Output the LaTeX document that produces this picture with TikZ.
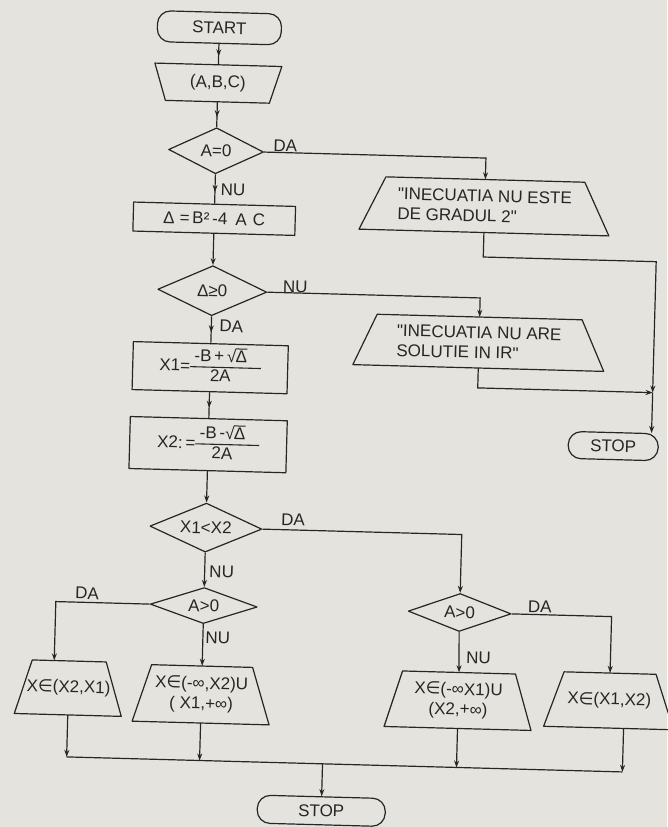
\documentclass[tikz,border=0pt]{standalone}
\usepackage{fontspec}
\setmainfont{Liberation Sans}
\newfontfamily\symfont{DejaVu Sans}
\newfontfamily\qfont{Liberation Sans}
\usetikzlibrary{arrows.meta,shapes.geometric,decorations.markings,calc}
\definecolor{paper}{RGB}{229,227,221}
\definecolor{ink}{RGB}{38,38,38}
\setlength{\arrayrulewidth}{1.1pt}
\newcommand{\elem}{{\symfont ∈}}
\newcommand{\dq}{{\qfont\symbol{34}}}
\newcommand{\myrt}[1]{√\kern-0.6pt\vbox{\hrule height 1pt\kern1.2pt\hbox{#1}}}
\newcommand{\myfr}[2]{\begin{tabular}{@{\hspace{4pt}}c@{\hspace{14pt}}}#1\\[-1pt]\hline #2\end{tabular}}
\newcommand{\mytrap}[8][center]{%
  \node[tbox,align=#1,minimum width={max(#5,#6)},minimum height=#7] (#2) at (#3,#4) {#8};
  \draw[shp] ({#3-#5/2},{#4-#7/2}) -- ({#3+#5/2},{#4-#7/2}) -- ({#3+#6/2},{#4+#7/2}) -- ({#3-#6/2},{#4+#7/2}) -- cycle;}
\begin{document}
\begin{tikzpicture}[x=1pt,y=-1pt,
  ln/.style={draw=ink,line width=1.2pt},
  shp/.style={draw=ink,line width=1.2pt,line join=round},
  txt/.style={font=\fontsize{17}{20}\selectfont,text=ink},
  term/.style={shp,txt,rectangle,rounded corners=13pt,inner sep=0pt},
  proc/.style={shp,txt,rectangle,inner sep=0pt},
  dec/.style={shp,txt,diamond,aspect=2.5,inner sep=0pt},
  tbox/.style={txt,inner sep=0pt},
  lbl/.style={txt,inner sep=0pt},
  flow/.style={ln,-{Stealth[length=7pt,width=5pt]}},
  midflow/.style={ln,postaction={decorate},decoration={markings,mark=at position 0.6 with {\arrow{Stealth[length=7pt,width=5pt]}}}}]
\fill[paper] (0,0) rectangle (667,827);
\useasboundingbox (0,0) rectangle (667,827);
\begin{scope}[transform canvas={rotate around={-1.55:(333,413)}}]
% main column
\node[term,minimum width=124pt,minimum height=31pt] (start) at (209,31) {START};
\mytrap{abc}{209}{86.5}{127}{104}{37}{(A,B,C)}
\node[dec,minimum width=95pt,minimum height=46pt] (d1) at (209,154) {A=0};
\node[proc,minimum width=162pt,minimum height=29pt] (delta) at (209,222) {Δ\hspace{5pt}=\,B²\hspace{3pt}-4\hspace{8pt}A\hspace{6pt}C};
\node[dec,minimum width=109pt,minimum height=50pt] (d2) at (209,294) {Δ≥0};
\node[proc,minimum width=155pt,minimum height=48pt] (x1) at (209,371) {X1=\myfr{-B\,+\,\myrt{Δ}}{2A}};
\node[proc,minimum width=157pt,minimum height=52pt] (x2) at (209,448) {X2:\,=\myfr{-B\,-\myrt{Δ}}{2A}};
\node[dec,minimum width=112pt,minimum height=49pt] (d3) at (209,531) {X1<X2};
\node[dec,minimum width=107pt,minimum height=36pt] (d4) at (209,609) {A>0};
\mytrap{tm}{209}{698}{101}{137}{57}{X\elem(-∞,X2)U\\( X1,+∞)}
\mytrap{tl}{76}{695}{74}{107}{54}{X\elem(X2,X1)}
\node[dec,minimum width=103pt,minimum height=38pt] (d5) at (465,609) {A>0};
\mytrap{tn}{466}{697}{113}{147}{56}{X\elem(-∞X1)U\\(X2,+∞)}
\mytrap{tr}{617}{693}{92}{130}{55}{X\elem(X1,X2)}
\node[term,minimum width=128pt,minimum height=28pt] (stop1) at (332,811) {STOP};
% right column
\mytrap[left]{t1}{479}{202}{199}{250}{53}{\dq INECUATIA NU ESTE\\DE GRADUL 2\dq}
\mytrap[left]{t2}{477}{338.6}{205}{251}{51}{\dq INECUATIA NU ARE\\SOLUTIE IN IR\dq}
\node[term,minimum width=90pt,minimum height=27pt] (stop2) at (614,438.5) {STOP};
% helper coordinates
\coordinate (mrow) at (0,764);
\coordinate (c1) at (652,253);
\coordinate (j) at (652,384);
\coordinate (tlin) at ([xshift=-15pt]tl.north);
\coordinate (trout) at ([xshift=15pt]tr.south);
% connectors
\draw[midflow] (start.south) -- (abc.north);
\draw[midflow] (abc.south) -- (d1.north);
\draw[midflow] (d1.south) -- (delta.north);
\draw[flow] (delta.south) -- (d2.north);
\draw[midflow] (d2.south) -- (x1.north);
\draw[midflow] (x1.south) -- (x2.north);
\draw[flow] (x2.south) -- (d3.north);
\draw[flow] (d3.south) -- (d4.north);
\draw[flow] (d4.south) -- (tm.north);
\draw[flow] (d4.west) -| (tlin);
\draw[flow] (d3.east) -| (d5.north);
\draw[flow] (d5.south) -- (tn.north);
\draw[flow] (d5.east) -| (tr.north);
\draw[flow] (d1.east) -| (t1.north);
\draw[flow] (d2.east) -| (t2.north);
\draw[ln] (tl.south |- mrow) -- (trout |- mrow);
\draw[flow] (tl.south) -- (tl.south |- mrow);
\draw[flow] (tm.south) -- (tm.south |- mrow);
\draw[flow] (tn.south) -- (tn.south |- mrow);
\draw[flow] (trout) -- (trout |- mrow);
\draw[flow] (stop1.north |- mrow) -- (stop1.north);
\draw[flow] (t1.south) |- (c1) -- (j);
\draw[flow] (t2.south) |- (j);
\draw[flow] (j) -- (stop2.north -| j);
% labels
\node[lbl] (l1) at (278,147) {DA};
\node[lbl] (l2) at (227,193) {NU};
\node[lbl] (l3) at (292,288) {NU};
\node[lbl] (l4) at (229,329) {DA};
\node[lbl] (l5) at (296,521) {DA};
\node[lbl] (l6) at (226,575) {NU};
\node[lbl] (l7) at (92,600) {DA};
\node[lbl] (l8) at (224,641) {NU};
\node[lbl] (l9) at (545,601) {DA};
\node[lbl] (l10) at (485,654) {NU};
\end{scope}
\end{tikzpicture}
\end{document}
